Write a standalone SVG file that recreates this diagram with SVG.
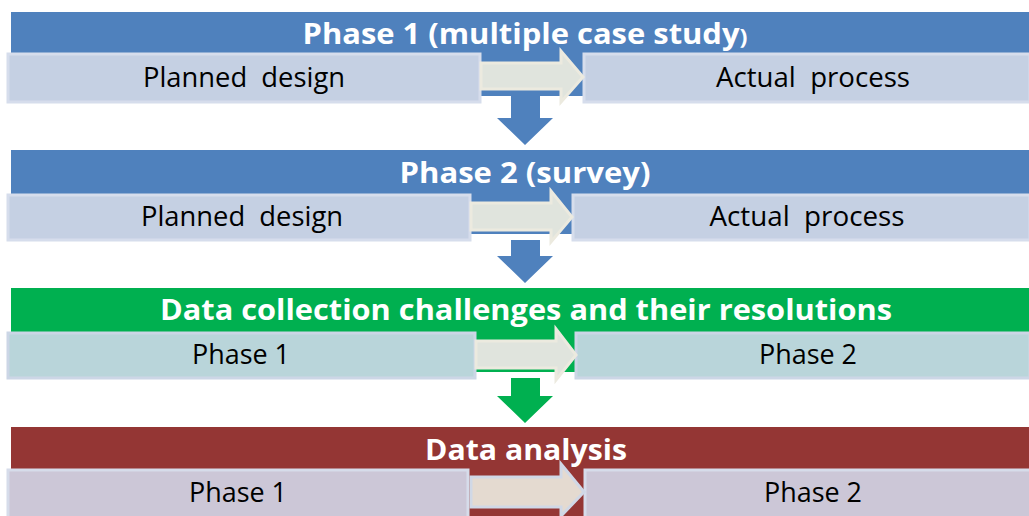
<svg xmlns="http://www.w3.org/2000/svg" width="1029" height="516" viewBox="0 0 1029 516">
<style>
.title{font-family:"Open Sans","Liberation Sans",sans-serif;font-weight:bold;font-size:29px;fill:#ffffff;}
.sub{font-family:"Open Sans","Liberation Sans",sans-serif;font-size:27px;fill:#000000;white-space:pre;}
.boxb{fill:#C5D0E3;stroke:#D6DDEC;stroke-width:3;}
.boxg{fill:#B9D5DA;stroke:#CCD6E6;stroke-width:3;}
.boxr{fill:#CCC7D7;stroke:#D6DCEA;stroke-width:3;}
.harrow{fill:#E0E4DD;stroke:#ECEADF;stroke-width:3;}
.harrowr{fill:#E4DAD0;stroke:#D0D8E6;stroke-width:3;}
</style>
<rect width="1029" height="516" fill="#ffffff"/>
<g id="phase1">
  <rect x="11" y="12" width="1018" height="84" fill="#4F81BD"/>
  <text class="title" x="525" y="44" text-anchor="middle" textLength="445" lengthAdjust="spacingAndGlyphs">Phase 1 (multiple case study<tspan font-size="22">)</tspan></text>
  <rect class="boxb" x="8" y="54" width="472" height="48"/>
  <rect class="boxb" x="584" y="54" width="446" height="48"/>
  <text class="sub" xml:space="preserve" x="244" y="87" text-anchor="middle" textLength="202" lengthAdjust="spacingAndGlyphs">Planned  design</text>
  <text class="sub" xml:space="preserve" x="813" y="87" text-anchor="middle" textLength="194" lengthAdjust="spacingAndGlyphs">Actual  process</text>
</g>
<g id="phase2">
  <rect x="11" y="150" width="1018" height="84" fill="#4F81BD"/>
  <text class="title" x="525" y="183" text-anchor="middle" textLength="251" lengthAdjust="spacingAndGlyphs">Phase 2 (survey)</text>
  <rect class="boxb" x="8" y="195" width="462" height="45"/>
  <rect class="boxb" x="573" y="195" width="457" height="45"/>
  <text class="sub" xml:space="preserve" x="242" y="226" text-anchor="middle" textLength="202" lengthAdjust="spacingAndGlyphs">Planned  design</text>
  <text class="sub" xml:space="preserve" x="807" y="226" text-anchor="middle" textLength="195" lengthAdjust="spacingAndGlyphs">Actual  process</text>
</g>
<g id="datacollection">
  <rect x="11" y="288" width="1018" height="84" fill="#00B050"/>
  <text class="title" x="526" y="320" text-anchor="middle" textLength="732" lengthAdjust="spacingAndGlyphs">Data collection challenges and their resolutions</text>
  <rect class="boxg" x="8" y="333" width="467" height="45"/>
  <rect class="boxg" x="576" y="333" width="454" height="45"/>
  <text class="sub" x="241" y="364" text-anchor="middle" textLength="98" lengthAdjust="spacingAndGlyphs">Phase 1</text>
  <text class="sub" x="808" y="364" text-anchor="middle" textLength="98" lengthAdjust="spacingAndGlyphs">Phase 2</text>
</g>
<g id="dataanalysis">
  <rect x="11" y="427" width="1018" height="89" fill="#943634"/>
  <text class="title" x="526" y="460" text-anchor="middle" textLength="202" lengthAdjust="spacingAndGlyphs">Data analysis</text>
  <rect class="boxr" x="8" y="470" width="460" height="48"/>
  <rect class="boxr" x="585" y="470" width="446" height="48"/>
  <text class="sub" x="238" y="502" text-anchor="middle" textLength="98" lengthAdjust="spacingAndGlyphs">Phase 1</text>
  <text class="sub" x="813" y="502" text-anchor="middle" textLength="98" lengthAdjust="spacingAndGlyphs">Phase 2</text>
</g>
<g id="connectors">
  <polygon class="harrow" points="481,63 561,63 561,51 583,77 561,102 561,89 481,89"/>
  <polygon fill="#4F81BD" points="511,96 540,96 540,118 553,118 525,145 497,118 511,118"/>
  <polygon class="harrow" points="471,203 551,203 551,191 572,217 551,242 551,230 471,230"/>
  <polygon fill="#4F81BD" points="511,240 540,240 540,256 553,256 525,283 497,256 511,256"/>
  <polygon class="harrow" points="476,341 556,341 556,329 576,355 556,380 556,368 476,368"/>
  <polygon fill="#00B050" points="511,378 540,378 540,396 553,396 525,423 497,396 511,396"/>
  <polygon class="harrowr" points="471,477 561,477 561,464 584,492 561,516 561,507 471,507"/>
</g>
</svg>
